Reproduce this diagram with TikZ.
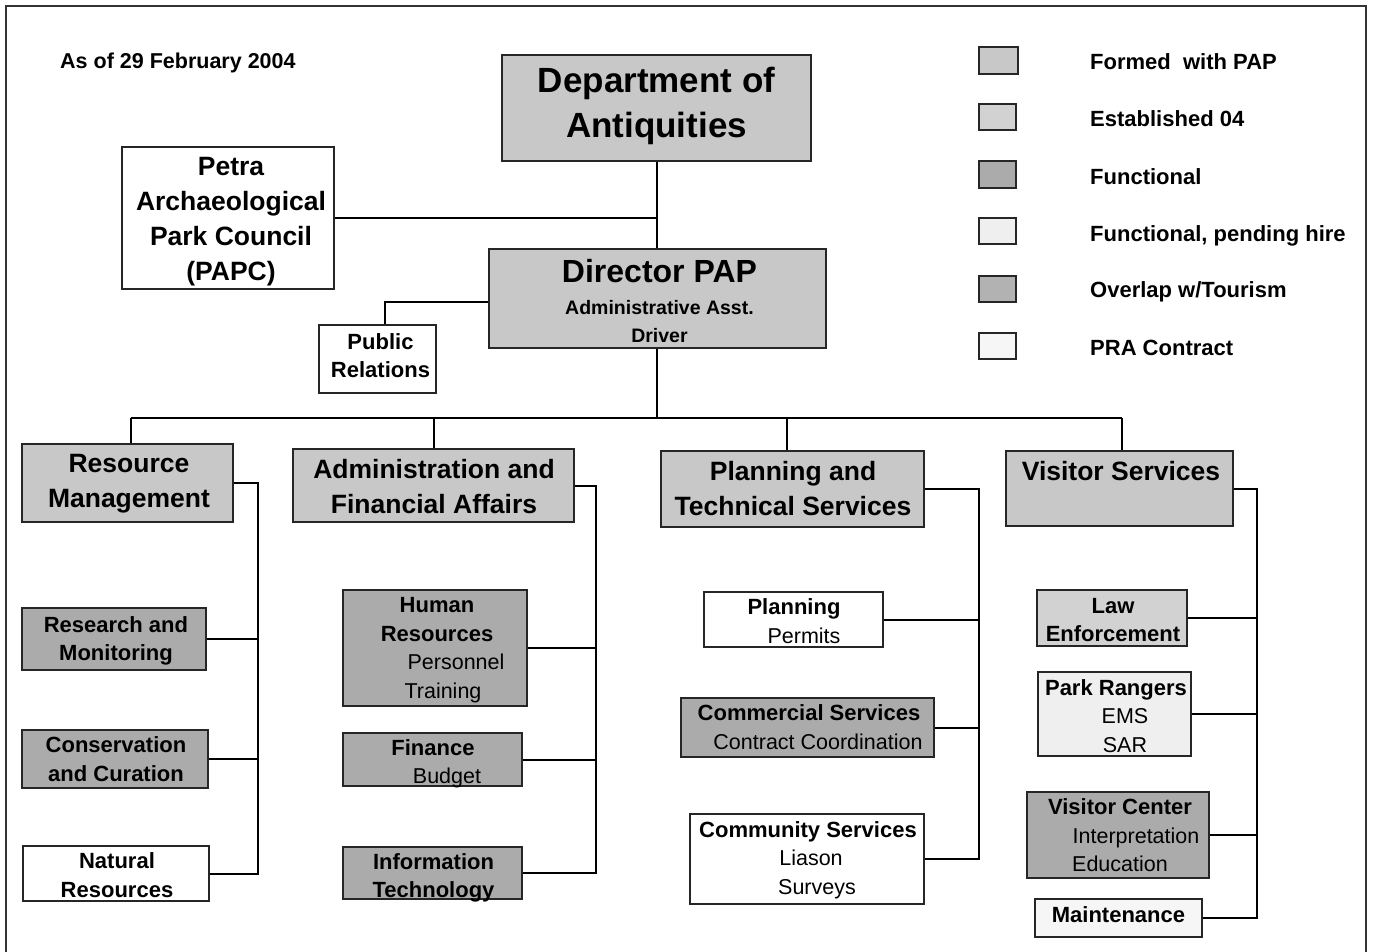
\documentclass[tikz,border=0pt]{standalone}
\usepackage{fontspec}
\setmainfont{Liberation Sans}
\definecolor{cFormed}{HTML}{C8C8C8}
\definecolor{cEst}{HTML}{D2D2D2}
\definecolor{cFunc}{HTML}{ABABAB}
\definecolor{cPend}{HTML}{EFEFEF}
\definecolor{cOver}{HTML}{B2B2B2}
\definecolor{cPRA}{HTML}{F6F6F6}
\newcommand\FtDept{\fontsize{35}{45}\selectfont\bfseries}
\newcommand\FtPapc{\fontsize{26.5}{35}\selectfont\bfseries}
\newcommand\FtHead{\fontsize{26.5}{35}\selectfont\bfseries}
\newcommand\FtSub{\fontsize{19.5}{28.5}\selectfont\bfseries}
\newcommand\FtSmall{\fontsize{22}{28.5}\selectfont\bfseries}
\newcommand\FtLeg{\fontsize{22}{25}\selectfont\bfseries}
\newcommand\Rg[1]{{\normalfont\fontsize{21.5}{28.5}\selectfont #1}}
\tikzset{
  box/.style={draw=black!85, line width=1.4pt, inner sep=0pt, rectangle},
  txt/.style={align=center, inner sep=0pt, text=black},
  conn/.style={draw=black, line width=2pt},
  fFormed/.style={fill=cFormed},
  fEst/.style={fill=cEst},
  fFunc/.style={fill=cFunc},
  fPend/.style={fill=cPend},
  fOver/.style={fill=cOver},
  fPRA/.style={fill=cPRA},
  fWhite/.style={fill=white},
}
% #1 name, #2 x1, #3 y1, #4 x2, #5 y2, #6 fill style, #7 text options, #8 text
\newcommand\bx[8]{%
  \node[box,#6,minimum width={#4-#2},minimum height={#5-#3}] (#1) at ({(#2+#4)/2},{(#3+#5)/2}) {};
  \node[txt,#7] (#1t) at (#1.center) {#8};
}
\begin{document}
\begin{tikzpicture}[x=1pt,y=-1pt]
\useasboundingbox (0,0) rectangle (1374,952);
\fill[white] (0,0) rectangle (1374,952);
% frame
\draw[line width=1.5pt, black!80] (6,952) -- (6,6) -- (1366,6) -- (1366,952);

\node[txt, anchor=west, font=\fontsize{21.5}{25}\selectfont\bfseries] (asof) at (60,63) {As of 29 February 2004};

% top
\bx{dept}{502}{55}{811}{161}{fFormed}{font=\FtDept, shift={(0,-2)}}{Department of\\Antiquities}
\bx{papc}{122}{147}{334}{289}{fWhite}{font=\FtPapc, shift={(3,3.5)}}{Petra\\Archaeological\\Park Council\\(PAPC)}
\bx{dir}{489}{249}{826}{348}{fFormed}{font=\FtSub, shift={(2,2.5)}}{{\fontsize{32}{38}\selectfont Director PAP}\\[3.5pt]Administrative Asst.\\Driver}
\bx{pr}{319}{325}{436}{393}{fWhite}{font=\FtSmall, shift={(3,-3.5)}}{Public\\Relations}

% departments
\bx{rm}{22}{444}{233}{522}{fFormed}{font=\FtHead, shift={(1.5,1)}}{Resource\\Management}
\bx{afa}{293}{449}{574}{522}{fFormed}{font=\FtHead, shift={(0.5,1)}}{Administration and\\Financial Affairs}
\bx{pts}{661}{451}{924}{527}{fFormed}{font=\FtHead, shift={(0.5,0)}}{Planning and\\Technical Services}
\bx{vs}{1006}{451}{1233}{526}{fFormed}{font=\FtHead, shift={(1.5,-17.5)}}{Visitor Services}

% resource management units
\bx{rsm}{22}{608}{206}{670}{fFunc}{font=\FtSmall, shift={(2,2)}}{Research and\\Monitoring}
\bx{cc}{22}{730}{208}{788}{fFunc}{font=\FtSmall, shift={(1,0)}}{Conservation\\and Curation}
\bx{nr}{23}{846}{209}{901}{fWhite}{font=\FtSmall, shift={(1,1.5)}}{Natural\\Resources}

% admin units
\bx{hr}{343}{590}{527}{706}{fFunc}{font=\FtSmall, shift={(2,2)}}{Human\\Resources\\\hspace*{38pt}\Rg{Personnel}\\\hspace*{12pt}\Rg{Training}}
\bx{fin}{343}{733}{522}{786}{fFunc}{font=\FtSmall, shift={(0.5,4.5)}}{Finance\\\hspace*{28pt}\Rg{Budget}}
\bx{it}{343}{847}{522}{899}{fFunc}{font=\FtSmall, shift={(1,5)}}{Information\\Technology}

% planning units
\bx{pp}{704}{592}{883}{647}{fWhite}{font=\FtSmall, shift={(0.5,1.5)}}{Planning\\\hspace*{20pt}\Rg{Permits}}
\bx{cs}{681}{698}{934}{757}{fFunc}{font=\FtSmall, shift={(1.5,-0.5)}}{Commercial Services\\\hspace*{18pt}\Rg{Contract Coordination}}
\bx{com}{690}{814}{924}{904}{fWhite}{font=\FtSmall, shift={(1,1)}}{Community Services\\\hspace*{6pt}\Rg{Liason}\\\hspace*{18pt}\Rg{Surveys}}

% visitor units
\bx{le}{1037}{590}{1187}{646}{fEst}{font=\FtSmall, shift={(1,2)}}{Law\\Enforcement}
\bx{prg}{1038}{672}{1191}{756}{fPend}{font=\FtSmall, shift={(1.5,2)}}{Park Rangers\\\hspace*{18pt}\Rg{EMS}\\\hspace*{18pt}\Rg{SAR}}
\bx{vc}{1027}{792}{1209}{878}{fFunc}{font=\FtSmall, shift={(2,0.5)}}{Visitor Center\\\hspace*{32pt}\Rg{Interpretation}\\\Rg{Education}}
\bx{mt}{1035}{899}{1202}{937}{fPRA}{font=\FtSmall, shift={(0,-3)}}{Maintenance}

% legend
\bx{lg1}{979}{47}{1018}{74}{fFormed}{}{}
\bx{lg2}{979}{104}{1016}{130}{fEst}{}{}
\bx{lg3}{979}{161}{1016}{188}{fFunc}{}{}
\bx{lg4}{979}{218}{1016}{244}{fPend}{}{}
\bx{lg5}{979}{276}{1016}{302}{fOver}{}{}
\bx{lg6}{979}{333}{1016}{359}{fPRA}{}{}
\node[txt, anchor=west, font=\FtLeg] (lt1) at (1090,62) {Formed\ \ with PAP};
\node[txt, anchor=west, font=\FtLeg] (lt2) at (1090,119) {Established 04};
\node[txt, anchor=west, font=\FtLeg] (lt3) at (1090,177) {Functional};
\node[txt, anchor=west, font=\FtLeg] (lt4) at (1090,236) {Functional, pending hire};
\node[txt, anchor=west, font=\FtLeg] (lt5) at (1090,292) {Overlap w/Tourism};
\node[txt, anchor=west, font=\FtLeg] (lt6) at (1090,348) {PRA Contract};

% connectors top
\coordinate (spine) at (657,0);
\draw[conn] (dept.south -| spine) -- (dir.north -| spine);
\draw[conn] (papc.east) -- (papc.east -| spine);
\draw[conn] ([yshift=-3]dir.west) -| ([xshift=7]pr.north);

% bus
\coordinate (busy) at (0,418);
\draw[conn] (dir.south -| spine) -- (spine |- busy);
\draw[conn] ([xshift=3]rm.north |- busy) -- ([xshift=2]vs.north |- busy);
\draw[conn] ([xshift=3]rm.north) -- ([xshift=3]rm.north |- busy);
\draw[conn] (afa.north) -- (afa.north |- busy);
\draw[conn] ([xshift=-6]pts.north) -- ([xshift=-6]pts.north |- busy);
\draw[conn] ([xshift=2]vs.north) -- ([xshift=2]vs.north |- busy);

% rails
\coordinate (R1) at (258,0);
\coordinate (R2) at (596,0);
\coordinate (R3) at (979,0);
\coordinate (R4) at (1257,0);
\draw[conn] (rm.east) -- (rm.east -| R1) -- (R1 |- nr.east) -- (nr.east);
\draw[conn] (rsm.east) -- (rsm.east -| R1);
\draw[conn] (cc.east) -- (cc.east -| R1);

\draw[conn] (afa.east) -- (afa.east -| R2) -- (R2 |- it.east) -- (it.east);
\draw[conn] (hr.east) -- (hr.east -| R2);
\draw[conn] (fin.east) -- (fin.east -| R2);

\draw[conn] (pts.east) -- (pts.east -| R3) -- (R3 |- com.east) -- (com.east);
\draw[conn] (pp.east) -- (pp.east -| R3);
\draw[conn] (cs.east) -- (cs.east -| R3);

\draw[conn] (vs.east) -- (vs.east -| R4) -- (R4 |- mt.east) -- (mt.east);
\draw[conn] (le.east) -- (le.east -| R4);
\draw[conn] (prg.east) -- (prg.east -| R4);
\draw[conn] (vc.east) -- (vc.east -| R4);
\end{tikzpicture}
\end{document}
